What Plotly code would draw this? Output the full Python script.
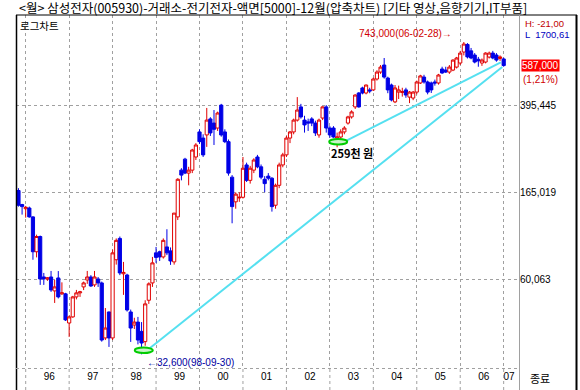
import math
import plotly.graph_objects as go

# ---- data: monthly candles, Nov 1995 (index 0) .. Jan 2007 (index 134) ----
opens = [168000, 146000, 140000, 141000, 129000, 91000, 106000, 70700, 69300, 70700,
         61500, 70000, 59700, 59700, 44600, 47400, 57900, 60300, 64000, 68600,
         70700, 65300, 69300, 66600, 38400, 49800, 38400, 84000, 104000, 73000,
         72100, 49800, 43700, 45000, 41000, 37000, 56000, 66600, 90000, 91000,
         86400, 95500, 91800, 82200, 129000, 206000, 230000, 200000, 206000, 235000,
         302000, 284000, 293000, 344000, 330000, 314000, 395000, 302000, 274000, 192000,
         150000, 156000, 157000, 217000, 186000, 206000, 235000, 213000, 188000, 194000,
         190000, 145000, 177000, 217000, 240000, 284000, 302000, 340000, 388000, 340000,
         334000, 344000, 330000, 293000, 347000, 388000, 314000, 314000, 284000, 287000,
         302000, 330000, 351000, 388000, 446000, 469000, 446000, 460000, 460000, 513000,
         550000, 590000, 518000, 483000, 408000, 450000, 448000, 460000, 428000, 424000,
         450000, 493000, 523000, 498000, 493000, 498000, 493000, 567000, 561000, 550000,
         561000, 578000, 602000, 672000, 725000, 680000, 652000, 625000, 602000, 608000,
         639000, 665000, 652000, 630000, 627000]
highs = [172000, 147000, 144000, 143000, 130000, 108000, 107000, 73600, 70500, 75100,
         68600, 75000, 67000, 60300, 48000, 58500, 62100, 61500, 67500, 75100,
         72000, 75100, 70700, 67500, 51800, 50000, 93000, 104000, 106000, 82200,
         73000, 51000, 47000, 47400, 45000, 56000, 67000, 86400, 95500, 92000,
         104000, 114000, 95000, 134000, 190000, 210000, 233000, 213000, 255000, 270000,
         310000, 295000, 384000, 350000, 376000, 370000, 400000, 310000, 280000, 196000,
         165000, 165000, 235000, 222000, 215000, 232000, 240000, 218000, 194000, 200000,
         192000, 180000, 222000, 245000, 290000, 305000, 345000, 428000, 400000, 355000,
         345000, 350000, 338000, 345000, 390000, 395000, 320000, 320000, 300000, 310000,
         320000, 355000, 375000, 440000, 450000, 475000, 485000, 470000, 520000, 560000,
         590000, 633000, 525000, 490000, 483000, 480000, 470000, 470000, 455000, 455000,
         505000, 535000, 535000, 505000, 500000, 510000, 540000, 580000, 580000, 590000,
         625000, 640000, 680000, 743000, 735000, 700000, 665000, 640000, 630000, 670000,
         675000, 680000, 665000, 650000, 635000]
lows = [143000, 132000, 128000, 128000, 84000, 86000, 65300, 65300, 68000, 60900,
        54500, 57000, 59100, 45500, 38800, 47000, 56500, 57900, 62000, 66000,
        64000, 64000, 64000, 37000, 37600, 35100, 37600, 80000, 72000, 59100,
        50000, 36900, 42000, 36000, 32600, 35500, 54000, 64000, 81400, 83000,
        85000, 88000, 79800, 80000, 125000, 186000, 198000, 177000, 200000, 228000,
        268000, 235000, 260000, 290000, 265000, 305000, 288000, 270000, 195000, 121000,
        140000, 150000, 155000, 183000, 180000, 200000, 210000, 188000, 165000, 186000,
        136000, 140000, 172000, 212000, 235000, 270000, 295000, 335000, 345000, 300000,
        305000, 320000, 290000, 285000, 340000, 300000, 285000, 285000, 259000, 280000,
        295000, 325000, 345000, 380000, 385000, 440000, 440000, 445000, 455000, 505000,
        540000, 515000, 445000, 410000, 403000, 420000, 430000, 425000, 403000, 415000,
        440000, 488000, 490000, 440000, 446000, 480000, 485000, 540000, 545000, 540000,
        555000, 570000, 590000, 650000, 630000, 625000, 600000, 580000, 585000, 600000,
        630000, 625000, 610000, 615000, 580000]
closes = [145000, 143000, 142000, 129000, 91000, 106000, 69300, 69300, 70000, 62100,
          64000, 57900, 60300, 46000, 47400, 57900, 60300, 60900, 66600, 70700,
          64600, 70700, 66600, 37600, 42400, 38400, 90000, 102000, 73600, 74000,
          50800, 42400, 45000, 37600, 36500, 54000, 66000, 81400, 86000, 86400,
          102000, 90000, 83000, 134000, 188000, 196000, 200000, 206000, 252000, 265000,
          274000, 240000, 340000, 299000, 310000, 365000, 293000, 274000, 200000, 143000,
          162000, 157000, 210000, 186000, 210000, 228000, 213000, 192000, 180000, 190000,
          143000, 177000, 217000, 240000, 284000, 302000, 340000, 376000, 351000, 324000,
          330000, 330000, 299000, 340000, 388000, 314000, 293000, 287000, 287000, 302000,
          314000, 351000, 369000, 437000, 388000, 446000, 483000, 455000, 513000, 550000,
          578000, 523000, 460000, 416000, 469000, 460000, 452000, 437000, 450000, 450000,
          498000, 529000, 498000, 450000, 460000, 493000, 534000, 545000, 550000, 578000,
          620000, 633000, 665000, 728000, 640000, 633000, 608000, 615000, 620000, 665000,
          665000, 633000, 620000, 640000, 587000]
month_idx = list(range(len(opens)))

year_start_idx = [2, 14, 26, 38, 50, 62, 74, 86, 98, 110, 122, 134]
year_label_pos = [8.5, 20.5, 32.5, 44.5, 56.5, 68.5, 80.5, 92.5, 104.5, 116.5, 128.5, 135.5]
year_labels = ['96', '97', '98', '99', '00', '01', '02', '03', '04', '05', '06', '07']

grid_values = [395445, 165019, 68862]
grid_labels = ['395,445', '165,019', '60,063']

trend1_x = [34.6, 133.6]
trend1_y = [33000, 578000]
trend2_x = [88.4, 133.2]
trend2_y = [266000, 606000]
circle_x = [34.6, 88.3]
circle_y = [33000, 266000]

high_val, high_idx, high_text = 743000, 123, '743,000(06-02-28)→'
low_val, low_idx, low_text = 32600, 34, '←32,600(98-09-30)'
low2_val, low2_idx, low2_text = 259000, 88, '259천 원'
last_val = 587000

# ---- layout geometry (pixels) ----
W, H = 580, 390
PL, PR, PT, PB = 16, 519, 15, 369
XPX0, XPX_PER = 18.46, 3.621          # pixel of month index 0, pixels per month
YTOP_LOG = 5.5971 + (105 - PT) / 230.0  # log10 value at plot top
YBOT_LOG = 5.5971 - (PB - 105) / 230.0  # log10 value at plot bottom


def px(v):
    return (v - PL) / (PR - PL)


def py(v):
    return (PB - v) / (PB - PT)


RED = '#E00000'
BLUE = '#0000E6'
NUMFONT = 'Liberation Sans, Arial, sans-serif'
KRFONT = 'Noto Sans CJK KR, sans-serif'

fig = go.Figure()
fig.add_trace(go.Candlestick(
    x=month_idx, open=opens, high=highs, low=lows, close=closes,
    increasing=dict(line=dict(color=RED, width=1), fillcolor='white'),
    decreasing=dict(line=dict(color=BLUE, width=1), fillcolor=BLUE),
    whiskerwidth=0, showlegend=False, hoverinfo='skip'))

for tx, ty in ((trend1_x, trend1_y), (trend2_x, trend2_y)):
    fig.add_trace(go.Scatter(x=tx, y=ty, mode='lines',
                             line=dict(color='#55E0F0', width=2),
                             showlegend=False, hoverinfo='skip'))

shapes = []
for cx, cy in zip(circle_x, circle_y):
    shapes.append(dict(type='circle', xref='x', yref='y',
                       xsizemode='pixel', ysizemode='pixel',
                       xanchor=cx, yanchor=cy, x0=-9, x1=9, y0=-5.5, y1=5.5,
                       line=dict(color='#00CC00', width=2), fillcolor='#C8F5C8',
                       layer='above'))

# frame lines
shapes += [
    dict(type='line', xref='paper', yref='paper', x0=px(16.5), x1=px(16.5), y0=py(15), y1=py(390),
         line=dict(color='black', width=1.5)),
    dict(type='line', xref='paper', yref='paper', x0=px(16), x1=px(577), y0=py(15), y1=py(15),
         line=dict(color='black', width=1)),
    dict(type='line', xref='paper', yref='paper', x0=px(519.5), x1=px(519.5), y0=py(15), y1=py(390),
         line=dict(color='#A0A0A0', width=1)),
    dict(type='line', xref='paper', yref='paper', x0=px(576.5), x1=px(576.5), y0=py(15), y1=py(390),
         line=dict(color='black', width=2)),
    dict(type='line', xref='paper', yref='paper', x0=px(16), x1=px(519), y0=py(368.5), y1=py(368.5),
         line=dict(color='#A0A0A0', width=1, dash='dot')),
]
for ys in year_start_idx:
    shapes.append(dict(type='line', xref='x', yref='paper', x0=ys, x1=ys,
                       y0=py(369), y1=py(390),
                       line=dict(color='#A0A0A0', width=1, dash='dot')))

annotations = [
    dict(text='&lt;월&gt; 삼성전자(005930)-거래소-전기전자-액면[5000]-12월(압축차트) [기타 영상,음향기기,IT부품]',
         xref='paper', yref='paper', x=px(17), y=py(8), xanchor='left', yanchor='middle',
         showarrow=False, font=dict(family=KRFONT, size=12.5, color='black')),
    dict(text='로그차트', xref='paper', yref='paper', x=px(18), y=py(25.5),
         xanchor='left', yanchor='middle', showarrow=False,
         font=dict(family=KRFONT, size=10.5, color='black')),
    dict(text=high_text, xref='x', yref='y', x=high_idx, y=math.log10(high_val),
         xanchor='right', yanchor='middle', xshift=-10, yshift=9, showarrow=False,
         font=dict(family=NUMFONT, size=10, color='#D00000')),
    dict(text=low_text, xref='x', yref='y', x=low_idx, y=math.log10(low_val),
         xanchor='left', yanchor='middle', xshift=3, yshift=-8, showarrow=False,
         font=dict(family=NUMFONT, size=10, color='#0000A0')),
    dict(text='<b>' + low2_text + '</b>', xref='x', yref='y', x=low2_idx, y=math.log10(low2_val),
         xanchor='center', yanchor='middle', xshift=15, yshift=-6, showarrow=False,
         font=dict(family=KRFONT, size=11, color='black')),
    dict(text='H: -21,00', xref='paper', yref='paper', x=px(523), y=py(23.5),
         xanchor='left', yanchor='middle', showarrow=False,
         font=dict(family=NUMFONT, size=9.5, color='#C00000')),
    dict(text='L  1700,61', xref='paper', yref='paper', x=px(523), y=py(34),
         xanchor='left', yanchor='middle', showarrow=False,
         font=dict(family=NUMFONT, size=9.5, color='#0000C0')),
    dict(text='587,000', xref='paper', yref='y', x=px(521), y=math.log10(last_val),
         xanchor='left', yanchor='middle', showarrow=False, bgcolor='#FF0000', borderpad=0,
         font=dict(family=NUMFONT, size=10, color='white')),
    dict(text='(1,21%)', xref='paper', yref='y', x=px(521), y=math.log10(last_val),
         xanchor='left', yanchor='middle', yshift=-14, showarrow=False,
         font=dict(family=NUMFONT, size=10, color='#D00000')),
    dict(text='종료', xref='paper', yref='paper', x=px(540), y=py(378),
         xanchor='center', yanchor='middle', showarrow=False,
         font=dict(family=KRFONT, size=11, color='black')),
]

fig.update_layout(
    width=W, height=H,
    margin=dict(l=PL, r=W - PR, t=PT, b=H - PB, autoexpand=False),
    paper_bgcolor='white', plot_bgcolor='white',
    showlegend=False, boxgap=0.12, boxgroupgap=0,
    shapes=shapes, annotations=annotations,
    xaxis=dict(range=[(PL - XPX0) / XPX_PER, (PR - XPX0) / XPX_PER],
               rangeslider=dict(visible=False), automargin=False,
               tickmode='array', tickvals=year_label_pos, ticktext=year_labels,
               ticks='', showgrid=False, zeroline=False, showline=False,
               tickfont=dict(family=NUMFONT, size=10, color='black'),
               minor=dict(tickmode='array', tickvals=year_start_idx, showgrid=True,
                          gridcolor='#A0A0A0', griddash='dot', gridwidth=1, ticks='')),
    yaxis=dict(type='log', side='right', range=[YBOT_LOG, YTOP_LOG], automargin=False,
               tickmode='array', tickvals=grid_values, ticktext=grid_labels,
               ticks='', showgrid=True, gridcolor='#A0A0A0', griddash='dot', gridwidth=1,
               zeroline=False, showline=False,
               tickfont=dict(family=NUMFONT, size=10, color='black')),
)

fig.write_html('out.html', config={'displayModeBar': False},
               post_script="document.body.style.margin='0px';document.body.style.overflow='hidden';")
